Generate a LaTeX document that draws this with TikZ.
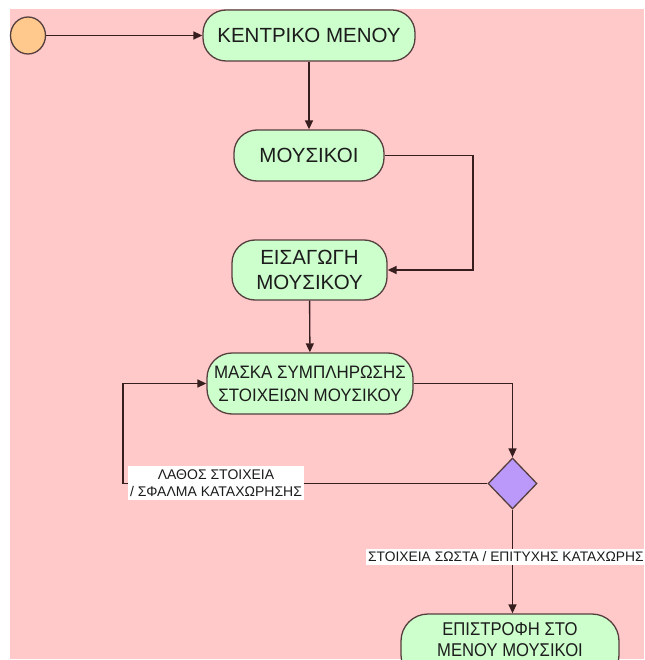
\documentclass[tikz,border=0pt]{standalone}
\usepackage{fontspec}
\setmainfont{Liberation Sans}
\newfontfamily\narrowsans[FakeStretch=0.94]{Liberation Sans}
\newfontfamily\narrowersans[FakeStretch=0.9]{Liberation Sans}
\usetikzlibrary{arrows.meta,shapes.geometric}

\definecolor{bgpink}{RGB}{255,201,201}
\definecolor{statefill}{RGB}{204,255,204}
\definecolor{edgeclr}{RGB}{85,62,62}
\definecolor{lineclr}{RGB}{55,30,30}
\definecolor{startfill}{RGB}{255,200,140}
\definecolor{choicefill}{RGB}{187,153,250}
\definecolor{txt}{RGB}{28,28,28}

\tikzset{
  state/.style={draw=edgeclr, line width=1.3pt, fill=statefill, rectangle,
    rounded corners=23pt, align=center, text=txt, inner sep=0pt,
    font=\fontsize{20.5}{25}\selectfont},
  startnode/.style={draw=edgeclr, line width=1.3pt, fill=startfill, ellipse,
    minimum width=35pt, minimum height=37pt, inner sep=0pt},
  choice/.style={draw=edgeclr, line width=1.3pt, fill=choicefill, diamond,
    minimum width=49pt, minimum height=51pt, inner sep=0pt},
  guard/.style={fill=white, text=txt, align=center, inner xsep=2pt,
    inner ysep=2.5pt, font=\fontsize{14}{17}\selectfont},
  flow/.style={draw=lineclr, line width=1.4pt,
    -{Triangle[length=9pt,width=8pt]}},
}

\begin{document}
\begin{tikzpicture}[x=1pt,y=-1pt]
  \useasboundingbox (0,0) rectangle (644,660);
  \clip (0,0) rectangle (644,660);
  \fill[white] (0,0) rectangle (644,660);
  \fill[bgpink] (10,9) rectangle (644,659);

  % states
  \node[startnode] (init) at (28,35.5) {};
  \node[state, minimum width=212pt, minimum height=51pt] (main) at (309,35.5) {ΚΕΝΤΡΙΚΟ ΜΕΝΟΥ};
  \node[state, minimum width=150pt, minimum height=51pt] (mus) at (309,155.5) {ΜΟΥΣΙΚΟΙ};
  \node[state, minimum width=155pt, minimum height=60pt] (ins) at (309.5,270) {ΕΙΣΑΓΩΓΗ\\ΜΟΥΣΙΚΟΥ};
  \node[state, minimum width=206pt, minimum height=61pt, rounded corners=25pt,
        font=\narrowsans\fontsize{18}{23}\selectfont] (form) at (310,383.5) {ΜΑΣΚΑ ΣΥΜΠΛΗΡΩΣΗΣ\\ΣΤΟΙΧΕΙΩΝ ΜΟΥΣΙΚΟΥ};
  \node[choice] (dec) at (512.5,483.5) {};
  \node[state, minimum width=218pt, minimum height=68pt, rounded corners=27pt,
        text depth=17pt, font=\narrowersans\fontsize{18.5}{21}\selectfont] (back) at (510,648) {ΕΠΙΣΤΡΟΦΗ ΣΤΟ\\ΜΕΝΟΥ ΜΟΥΣΙΚΟΙ};

  % bend points
  \coordinate (musbend) at (473,155.5);
  \coordinate (formbend) at (dec.north |- form.east);
  \coordinate (loopbend) at (123,483.5);
  \coordinate (backtop) at (dec.south |- back.north);

  % transitions
  \draw[flow] (init) -- (main);
  \draw[flow] (main) -- (mus);
  \draw[flow] (mus.east) -- (musbend) |- (ins.east);
  \draw[flow] (ins) -- (form);
  \draw[flow] (form.east) -- (formbend) -- (dec.north);
  \draw[flow] (dec.west) -- (loopbend) |- (form.west);
  \draw[flow] (dec.south) -- (backtop);

  % guard labels
  \node[guard, inner ysep=3.5pt] (errlbl) at (216,483) {ΛΑΘΟΣ ΣΤΟΙΧΕΙΑ\\/ ΣΦΑΛΜΑ ΚΑΤΑΧΩΡΗΣΗΣ};
  \node[guard, anchor=west, font=\fontsize{13.8}{17}\selectfont] (oklbl) at (366,557)
    {\makebox[278pt][l]{ΣΤΟΙΧΕΙΑ ΣΩΣΤΑ / ΕΠΙΤΥΧΗΣ ΚΑΤΑΧΩΡΗΣ}};
\end{tikzpicture}
\end{document}
